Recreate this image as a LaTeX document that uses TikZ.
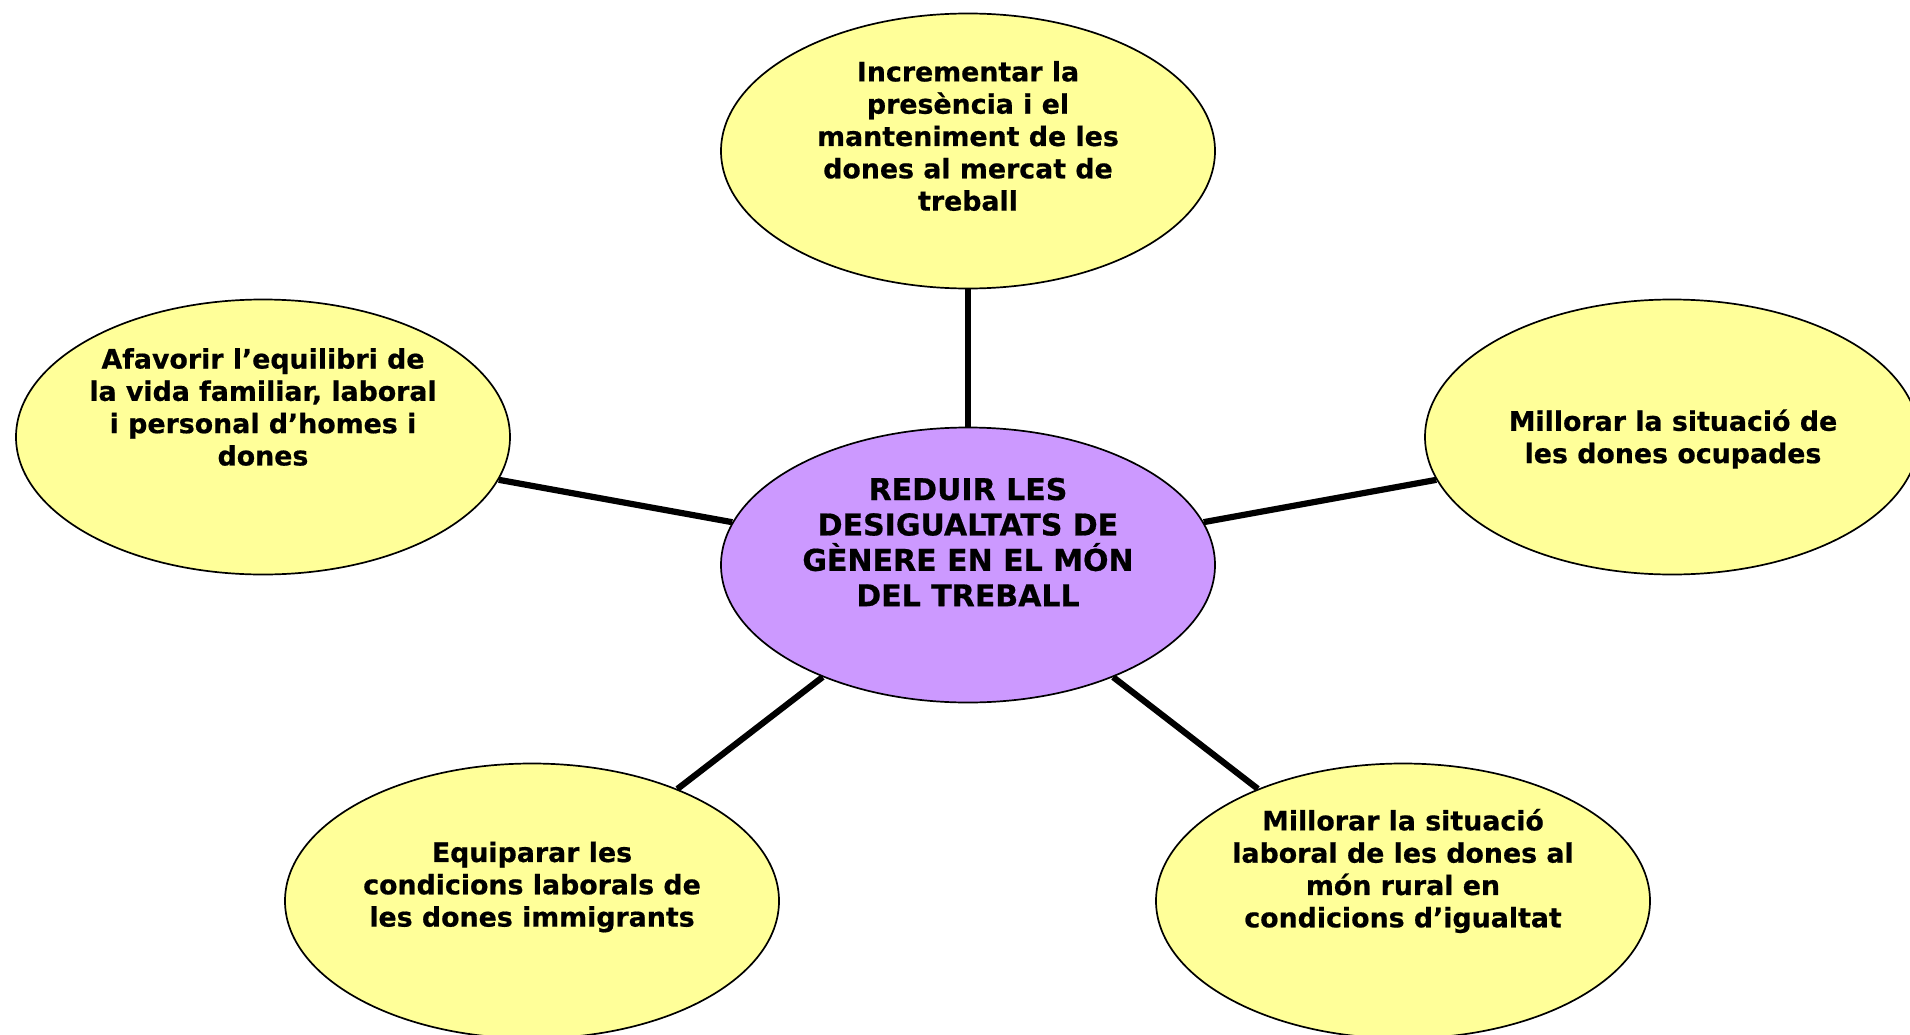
\documentclass[tikz,border=0pt]{standalone}
\usepackage{fontspec}
\setmainfont{DejaVu Sans}
\newfontfamily\heavyfont{DejaVu Sans Bold}[FakeBold=0.6]
\usetikzlibrary{shapes.geometric}
\definecolor{goalyellow}{HTML}{FFFF99}
\definecolor{corepurple}{HTML}{CC99FF}
\begin{document}
\begin{tikzpicture}[x=1pt,y=-1pt,
  oval/.style={ellipse,draw=black,line width=1.7pt,minimum width=494pt,minimum height=275pt,inner sep=0pt},
  goal/.style={oval,fill=goalyellow},
  core/.style={oval,fill=corepurple},
  txt/.style={align=center,font=\fontsize{26.8}{32.3}\heavyfont,inner sep=0pt},
  coretxt/.style={align=center,font=\fontsize{30}{35.4}\heavyfont,inner sep=0pt},
  link/.style={line width=6.2pt,black}]
\clip (0,0) rectangle (1910,1035);
\fill[white] (0,0) rectangle (1910,1035);
\node[goal] (top) at (968,151) {};
\node[core] (c) at (968,565) {};
\node[goal] (l) at (263,437) {};
\node[goal] (r) at (1672,437) {};
\node[goal] (bl) at (532,901) {};
\node[goal] (br) at (1403,901) {};
\draw[link] (c) -- (top);
\draw[link] (c) -- (l);
\draw[link] (c) -- (r);
\draw[link] (c) -- (bl);
\draw[link] (c) -- (br);
\node[txt] (ttop) at (968,136) {Incrementar la\\presència i el\\manteniment de les\\dones al mercat de\\treball};
\node[coretxt] (tc) at (968,542) {REDUIR LES\\DESIGUALTATS DE\\GÈNERE EN EL MÓN\\DEL TREBALL};
\node[txt] (tl) at (263,407) {Afavorir l’equilibri de\\la vida familiar, laboral\\i personal d’homes i\\dones};
\node[txt] (tr) at (1673,439) {Millorar la situació de\\les dones ocupades};
\node[txt] (tbl) at (532,887) {Equiparar les\\condicions laborals de\\les dones immigrants};
\node[txt] (tbr) at (1403,871) {Millorar la situació\\laboral de les dones al\\món rural en\\condicions d’igualtat};
\end{tikzpicture}
\end{document}
